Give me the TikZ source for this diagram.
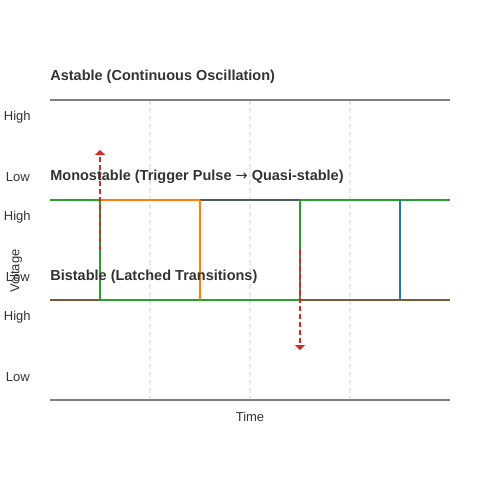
\documentclass[tikz,border=0pt]{standalone}
\usepackage{fontspec}
\setmainfont{Liberation Sans}
\newfontfamily\arrowfont{DejaVu Sans}
\usetikzlibrary{arrows.meta}
\definecolor{axisgray}{HTML}{808080}
\definecolor{gridgray}{HTML}{E6E6E6}
\definecolor{txtgray}{HTML}{333333}
\definecolor{sgreen}{HTML}{2CA02C}
\definecolor{sorange}{HTML}{FF7F0E}
\definecolor{sslate}{HTML}{4A5A68}
\definecolor{sblue}{HTML}{1F77B4}
\definecolor{sbrown}{HTML}{7B5A3C}
\definecolor{sred}{HTML}{D62728}
\tikzset{
	levlabel/.style={anchor=east, inner sep=0, text=txtgray, font=\fontsize{7.4}{8}\selectfont},
	modetitle/.style={anchor=west, inner sep=0, text=txtgray, font=\fontsize{8.25}{9}\selectfont\bfseries},
	trace/.style={line width=0.04cm},
	trigger/.style={sred, line width=0.03cm, dash pattern=on 0.1cm off 0.06cm, -{Triangle[width=0.2cm,length=0.1cm]}}
}

\begin{document}
\begin{tikzpicture}[x=0.02cm, y=-0.02cm]
			%%%%% START %%%%%
			\useasboundingbox (0, 0) rectangle (500, 500);
			
			% grid
			\draw[gridgray, line width=0.03cm, dash pattern=on 0.1cm off 0.06cm] (150, 100) -- (150, 400);
			\draw[gridgray, line width=0.03cm, dash pattern=on 0.1cm off 0.06cm] (250, 100) -- (250, 400);
			\draw[gridgray, line width=0.03cm, dash pattern=on 0.1cm off 0.06cm] (350, 100) -- (350, 400);
			
			\draw[axisgray, trace] (50, 100) -- (450, 100);
			\draw[axisgray, trace] (50, 400) -- (450, 400);
			
			% bistable level
			\draw[sbrown, trace] (50, 300) -- (100, 300);
			\draw[sgreen, trace] (100, 300) -- (300, 300);
			\draw[sbrown, trace] (300, 300) -- (450, 300);
			
			% monostable level
			\draw[sgreen, trace] (50, 200) -- (100, 200);
			\draw[sorange, trace] (100, 200) -- (200, 200);
			\draw[sslate, trace] (200, 200) -- (300, 200);
			\draw[sgreen, trace] (300, 200) -- (450, 200);
			
			% edges
			\draw[sgreen, trace] (100, 200) -- (100, 300);
			\draw[sorange, trace] (200, 200) -- (200, 300);
			\draw[sgreen, trace] (300, 200) -- (300, 300);
			\draw[sblue, trace] (400, 200) -- (400, 300);
			
			% triggers
			\coordinate (setfrom) at (100, 250);
			\coordinate (setto) at (100, 150);
			\coordinate (resetfrom) at (300, 250);
			\coordinate (resetto) at (300, 350);
			\draw[trigger] (setfrom) -- (setto);
			\draw[trigger] (resetfrom) -- (resetto);
			
			% titles
			\node[modetitle] (astable) at (50, 77) {Astable (Continuous Oscillation)};
			\node[modetitle] (monostable) at (50, 177) {Monostable (Trigger Pulse {\arrowfont\mdseries→} Quasi-stable)};
			\node[modetitle] (bistable) at (50, 277) {Bistable (Latched Transitions)};
			
			% levels
			\node[levlabel] (high1) at (31, 117) {High};
			\node[levlabel] (low1) at (30, 177) {Low};
			\node[levlabel] (high2) at (31, 217) {High};
			\node[levlabel] (low2) at (30, 277) {Low};
			\node[levlabel] (high3) at (31, 317) {High};
			\node[levlabel] (low3) at (30, 377) {Low};
			
			\node[inner sep=0, text=txtgray, rotate=90, font=\fontsize{7.4}{8}\selectfont] (voltage) at (16, 271) {Voltage};
			\node[inner sep=0, text=txtgray, font=\fontsize{7.4}{8}\selectfont] (time) at (250, 417) {Time};
			%%%%% END %%%%%
\end{tikzpicture}
\end{document}
